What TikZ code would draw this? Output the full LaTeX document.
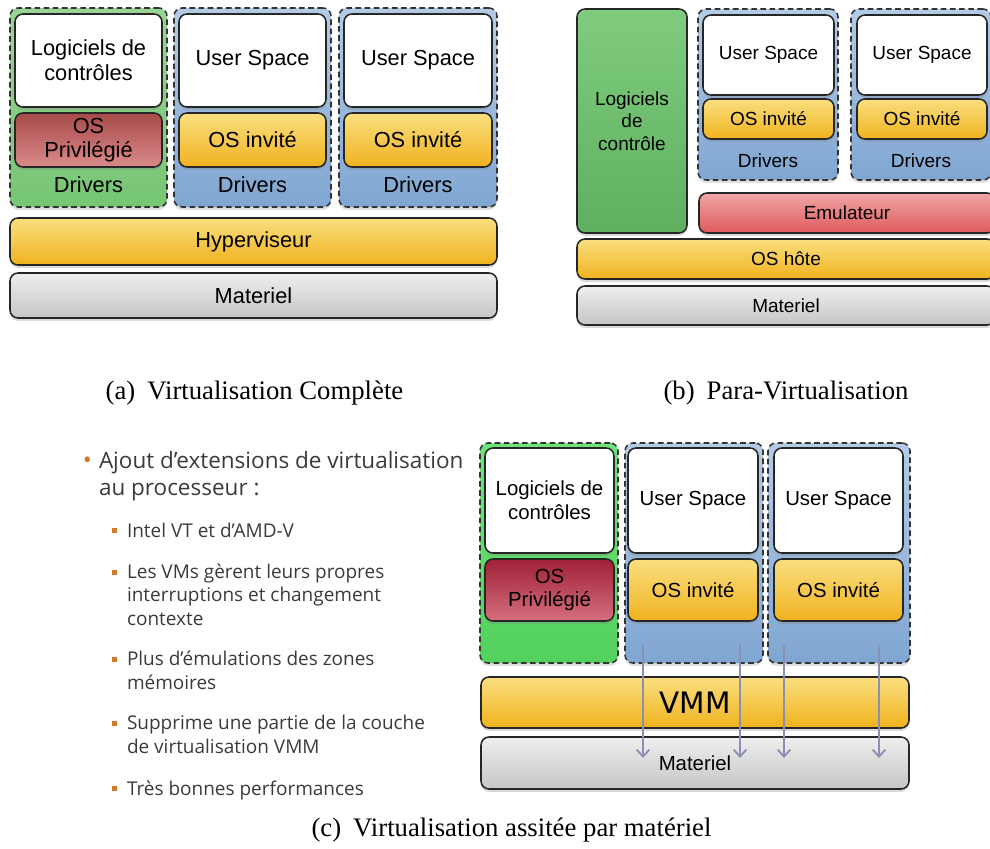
\documentclass[tikz,border=0pt]{standalone}
\usepackage{fontspec}
\setmainfont{Liberation Serif}
\setsansfont{Liberation Sans}
\newfontfamily\slidefont{Open Sans}
\newfontfamily\vmmfont{DejaVu Sans}
\usetikzlibrary{shadows,arrows.meta}
\newlength{\unitpx}\setlength{\unitpx}{0.025cm}
\definecolor{greenTop}{HTML}{98D595}
\definecolor{greenBot}{HTML}{76C673}
\definecolor{brightTop}{HTML}{6FE278}
\definecolor{brightBot}{HTML}{52D15E}
\definecolor{darkTop}{HTML}{80CC7E}
\definecolor{darkBot}{HTML}{5EB05F}
\definecolor{blueTop}{HTML}{B3CBE6}
\definecolor{blueBot}{HTML}{7FA6D2}
\definecolor{orangeTop}{HTML}{FADF80}
\definecolor{orangeBot}{HTML}{F0B21E}
\definecolor{redTop}{HTML}{A84A4A}
\definecolor{redBot}{HTML}{DA8A8A}
\definecolor{roseTop}{HTML}{A02038}
\definecolor{roseBot}{HTML}{D4707E}
\definecolor{emuTop}{HTML}{F0A6A6}
\definecolor{emuBot}{HTML}{DF5A5C}
\definecolor{greyTop}{HTML}{EEEEEE}
\definecolor{greyBot}{HTML}{C6C6C6}
\definecolor{slideText}{HTML}{3A3A3A}
\definecolor{slideBullet}{HTML}{D27A2C}
\definecolor{flowArrow}{HTML}{8C8FB4}
\begin{document}
\begin{tikzpicture}[x=0.025cm, y=-0.025cm, font=\sffamily,
	every node/.style={inner sep=0pt, outer sep=0pt, align=center},
	box/.style={draw=black!85, line width=1.1pt, rounded corners=0.2cm, drop shadow={shadow xshift=0pt, shadow yshift=-0.07cm, opacity=0.3}},
	guest/.style={draw=black!80, line width=1.1pt, dash pattern=on 4pt off 2.5pt, rounded corners=0.2cm, drop shadow={shadow xshift=0pt, shadow yshift=-0.07cm, opacity=0.25}},
	white/.style={box, fill=white},
	greenbox/.style={top color=greenTop, bottom color=greenBot},
	brightbox/.style={top color=brightTop, bottom color=brightBot},
	bluebox/.style={top color=blueTop, bottom color=blueBot},
	orangebox/.style={box, top color=orangeTop, bottom color=orangeBot},
	redbox/.style={box, top color=redTop, bottom color=redBot},
	greybox/.style={box, top color=greyTop, bottom color=greyBot},
	textA/.style={font=\sffamily\fontsize{15.5}{17.5}\selectfont},
	textB/.style={font=\sffamily\fontsize{13.5}{16}\selectfont},
	textC/.style={font=\sffamily\fontsize{14.5}{17}\selectfont},
	caption/.style={font=\rmfamily\fontsize{19}{22}\selectfont},
	item/.style={anchor=base west, align=left, text=slideText, font=\slidefont\fontsize{13.5}{16.4}\selectfont},
	mainitem/.style={item, font=\slidefont\fontsize{16}{18.5}\selectfont},
	flow/.style={draw=flowArrow, line width=1.3pt, -{Straight Barb[length=5pt, width=9pt]}}]
	\useasboundingbox (0,0) rectangle (990,848);
	
	% (a) Virtualisation complete
	\node[guest, greenbox, minimum width=157\unitpx, minimum height=199\unitpx] (a-dom0) at (88.5,107.5) {};
	\node[guest, bluebox, minimum width=157\unitpx, minimum height=199\unitpx] (a-vm1) at (252.5,107.5) {};
	\node[guest, bluebox, minimum width=158\unitpx, minimum height=199\unitpx] (a-vm2) at (418,107.5) {};
	\node[white, textA, minimum width=147\unitpx, minimum height=93\unitpx] (a-sw0) at (88.5,60.5) {Logiciels de\\contrôles};
	\node[white, textA, minimum width=147\unitpx, minimum height=93\unitpx] (a-us1) at (252.5,60.5) {User Space};
	\node[white, textA, minimum width=148\unitpx, minimum height=93\unitpx] (a-us2) at (418,60.5) {User Space};
	\node[redbox, textA, minimum width=147\unitpx, minimum height=54\unitpx] (a-os0) at (88.5,140) {OS\\Privilégié};
	\node[orangebox, textA, minimum width=147\unitpx, minimum height=54\unitpx] (a-os1) at (252.5,140) {OS invité};
	\node[orangebox, textA, minimum width=148\unitpx, minimum height=54\unitpx] (a-os2) at (418,140) {OS invité};
	\node[textA] (a-drv0) at (88.5,185) {Drivers};
	\node[textA] (a-drv1) at (252.5,185) {Drivers};
	\node[textA] (a-drv2) at (418,185) {Drivers};
	\node[orangebox, textA, minimum width=487\unitpx, minimum height=47\unitpx] (a-hyp) at (253.5,241.5) {Hyperviseur};
	\node[greybox, textA, minimum width=487\unitpx, minimum height=45\unitpx] (a-hw) at (253.5,295.5) {Materiel};
	\node[caption] (a-cap) at (254.5,393) {(a)\hspace{0.45em}Virtualisation Complète};
	
	% (b) Para-virtualisation
	\node[box, top color=darkTop, bottom color=darkBot, textB, minimum width=110\unitpx, minimum height=224\unitpx] (b-ctl) at (632,121) {Logiciels\\de\\contrôle};
	\node[guest, bluebox, minimum width=140\unitpx, minimum height=171\unitpx] (b-vm1) at (768,94.5) {};
	\node[guest, bluebox, minimum width=140\unitpx, minimum height=171\unitpx] (b-vm2) at (921,94.5) {};
	\node[white, textB, minimum width=131\unitpx, minimum height=80\unitpx] (b-us1) at (768.5,55) {User Space};
	\node[white, textB, minimum width=130\unitpx, minimum height=80\unitpx] (b-us2) at (922,55) {User Space};
	\node[orangebox, textB, minimum width=131\unitpx, minimum height=40\unitpx] (b-os1) at (768.5,119) {OS invité};
	\node[orangebox, textB, minimum width=130\unitpx, minimum height=40\unitpx] (b-os2) at (922,119) {OS invité};
	\node[textB] (b-drv1) at (768,161) {Drivers};
	\node[textB] (b-drv2) at (921,161) {Drivers};
	\node[box, top color=emuTop, bottom color=emuBot, textB, minimum width=296\unitpx, minimum height=40\unitpx] (b-emu) at (847,213) {Emulateur};
	\node[orangebox, textB, minimum width=418\unitpx, minimum height=40\unitpx] (b-host) at (786,259) {OS hôte};
	\node[greybox, textB, minimum width=418\unitpx, minimum height=39\unitpx] (b-hw) at (786,305.5) {Materiel};
	\node[caption] (b-cap) at (786,393) {(b)\hspace{0.45em}Para-Virtualisation};
	
	% (c) Virtualisation assistee par materiel
	\node[mainitem] (c-it0) at (99,495) {\llap{\textcolor{slideBullet}{\fontsize{17}{17}\selectfont •}\hspace{5pt}}Ajout d’extensions de virtualisation\\au processeur :};
	\node[item] (c-it1) at (127,537) {\llap{\textcolor{slideBullet}{\raisebox{2.5pt}{\rule{3.8pt}{3.8pt}}}\hspace{7pt}}Intel VT et d’AMD-V};
	\node[item] (c-it2) at (127,625) {\llap{\textcolor{slideBullet}{\raisebox{2.5pt}{\rule{3.8pt}{3.8pt}}}\hspace{7pt}}Les VMs gèrent leurs propres\\interruptions et changement\\contexte};
	\node[item] (c-it3) at (127,689) {\llap{\textcolor{slideBullet}{\raisebox{2.5pt}{\rule{3.8pt}{3.8pt}}}\hspace{7pt}}Plus d’émulations des zones\\mémoires};
	\node[item] (c-it4) at (127,753) {\llap{\textcolor{slideBullet}{\raisebox{2.5pt}{\rule{3.8pt}{3.8pt}}}\hspace{7pt}}Supprime une partie de la couche\\de virtualisation VMM};
	\node[item] (c-it5) at (127,795) {\llap{\textcolor{slideBullet}{\raisebox{2.5pt}{\rule{3.8pt}{3.8pt}}}\hspace{7pt}}Très bonnes performances};
	
	\node[guest, brightbox, minimum width=138\unitpx, minimum height=220\unitpx] (c-dom0) at (549,553) {};
	\node[guest, bluebox, minimum width=138\unitpx, minimum height=220\unitpx] (c-vm1) at (694,553) {};
	\node[guest, bluebox, minimum width=142\unitpx, minimum height=220\unitpx] (c-vm2) at (839,553) {};
	\node[white, textC, minimum width=129\unitpx, minimum height=105\unitpx] (c-sw0) at (549.5,500.5) {Logiciels de\\contrôles};
	\node[white, textC, minimum width=130\unitpx, minimum height=105\unitpx] (c-us1) at (693,500.5) {User Space};
	\node[white, textC, minimum width=129\unitpx, minimum height=105\unitpx] (c-us2) at (838.5,500.5) {User Space};
	\node[box, top color=roseTop, bottom color=roseBot, textC, minimum width=129\unitpx, minimum height=62\unitpx] (c-os0) at (549.5,590) {OS\\Privilégié};
	\node[orangebox, textC, minimum width=130\unitpx, minimum height=62\unitpx] (c-os1) at (693,590) {OS invité};
	\node[orangebox, textC, minimum width=129\unitpx, minimum height=62\unitpx] (c-os2) at (838.5,590) {OS invité};
	\node[orangebox, font=\vmmfont\fontsize{21}{24}\selectfont, minimum width=428\unitpx, minimum height=51\unitpx] (c-vmm) at (695,702.5) {VMM};
	\node[greybox, textC, minimum width=428\unitpx, minimum height=52\unitpx] (c-hw) at (695,763) {Materiel};
	
	\coordinate (c-in1) at (643,645);
	\coordinate (c-in2) at (740,645);
	\coordinate (c-in3) at (784,645);
	\coordinate (c-in4) at (879,645);
	\draw[flow] (c-in1) -- (c-in1 |- 0,758);
	\draw[flow] (c-in2) -- (c-in2 |- 0,758);
	\draw[flow] (c-in3) -- (c-in3 |- 0,758);
	\draw[flow] (c-in4) -- (c-in4 |- 0,758);
	
	\node[caption] (c-cap) at (511.5,830) {(c)\hspace{0.45em}Virtualisation assitée par matériel};
	
\end{tikzpicture}
\end{document}
